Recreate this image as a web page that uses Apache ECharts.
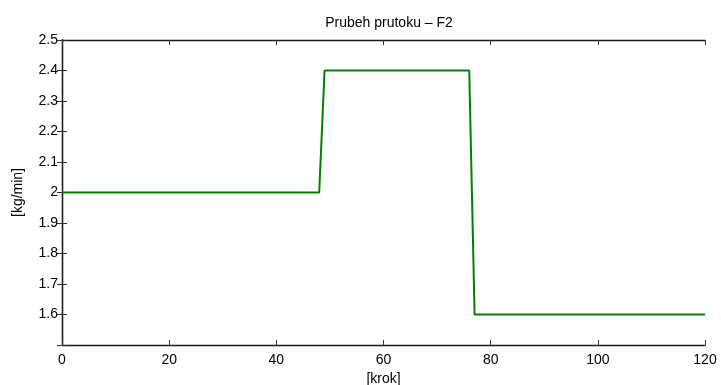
<!DOCTYPE html>
<html>
<head>
<meta charset="utf-8">
<script src="https://cdn.jsdelivr.net/npm/echarts@6/dist/echarts.min.js"></script>
<style>html,body{margin:0;padding:0;background:#fff}#c{width:721px;height:385px}</style>
</head>
<body>
<div id="c"></div>
<script>
var titleText = 'Prubeh prutoku \u2013 F2';
var xName = '[krok]';
var yName = '[kg/min]';
var stepX = [0, 48, 49, 76, 77, 120];
var flowF2 = [2, 2, 2.4, 2.4, 1.6, 1.6];

var font = '"Liberation Sans", Arial, Helvetica, sans-serif';
var chart = echarts.init(document.getElementById('c'), null, {renderer: 'canvas'});
var pts = stepX.map(function (x, i) { return [x, flowF2[i]]; });
var axisLine = {show: true, lineStyle: {color: '#1a1a1a', width: 1.3}};
var tick = {show: true, inside: true, length: 5, lineStyle: {color: '#333', width: 1}};
chart.setOption({
  animation: false,
  backgroundColor: '#fff',
  title: {text: titleText, left: 384, top: 11, textAlign: 'center',
    textStyle: {fontFamily: font, fontSize: 14, fontWeight: 'normal', color: '#000'}},
  grid: {left: 62, right: 16, top: 40, bottom: 40, containLabel: false, outerBoundsMode: 'none'},
  xAxis: [{
    type: 'value', min: 0, max: 120, interval: 20, position: 'bottom',
    name: xName, nameLocation: 'middle', nameGap: 25,
    nameTextStyle: {fontFamily: font, fontSize: 14, color: '#000'},
    axisLine: axisLine, axisTick: tick, splitLine: {show: false},
    axisLabel: {fontFamily: font, fontSize: 14, color: '#000', margin: 8}
  }, {
    type: 'value', min: 0, max: 120, interval: 20, position: 'top',
    axisLine: axisLine, axisTick: tick, splitLine: {show: false}, axisLabel: {show: false}
  }],
  yAxis: [{
    type: 'value', min: 1.5, max: 2.5, interval: 0.1, position: 'left',
    name: yName, nameLocation: 'middle', nameGap: 37,
    nameTextStyle: {fontFamily: font, fontSize: 14, color: '#000'},
    axisLine: axisLine, axisTick: tick, splitLine: {show: false},
    axisLabel: {fontFamily: font, fontSize: 14, color: '#000', margin: 4,
      formatter: function (v) { var r = Math.round(v * 10) / 10; return r === 1.5 ? '' : String(r); }}
  }, {
    type: 'value', min: 1.5, max: 2.5, interval: 0.1, position: 'right',
    axisLine: axisLine, axisTick: tick, splitLine: {show: false}, axisLabel: {show: false}
  }],
  series: [{
    type: 'line', data: pts, showSymbol: false, symbol: 'none',
    lineStyle: {color: '#008000', width: 2}, z: 1
  }]
});
</script>
</body>
</html>
